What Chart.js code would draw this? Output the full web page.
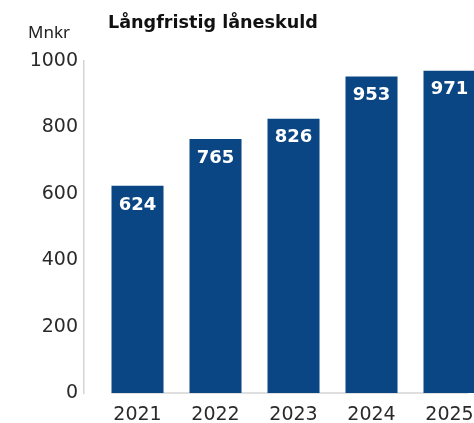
<!DOCTYPE html>
<html>
<head>
<meta charset="utf-8">
<script src="https://cdn.jsdelivr.net/npm/chart.js@4/dist/chart.umd.min.js"></script>
<style>
  html, body { margin: 0; padding: 0; background: #fff; overflow: hidden; }
  #wrap { position: relative; width: 474px; height: 423px; }
  #title { position: absolute; left: 108px; top: 12px; font: bold 17.6px "DejaVu Sans", sans-serif; color: #111; white-space: nowrap; }
  #unit { position: absolute; left: 28px; top: 20px; font: 17px "Noto Sans", sans-serif; color: #222; white-space: nowrap; }
  canvas { position: absolute; left: 0; top: 0; }
</style>
</head>
<body>
<div id="wrap">
  <canvas id="c" width="474" height="423"></canvas>
  <div id="title">Långfristig låneskuld</div>
  <div id="unit">Mnkr</div>
</div>
<script>
const years = [2021, 2022, 2023, 2024, 2025];
const values = [624, 765, 826, 953, 971];
const yTicks = [0, 200, 400, 600, 800, 1000];

const barColor = '#0b4684';
const axisColor = '#d4d4d4';
const textColor = '#2a2a2a';
const tickFont = { family: '"DejaVu Sans", sans-serif', size: 19 };

const valueLabels = {
  id: 'valueLabels',
  afterDatasetsDraw(chart) {
    const ctx = chart.ctx;
    const meta = chart.getDatasetMeta(0);
    ctx.save();
    ctx.fillStyle = '#fff';
    ctx.font = 'bold 18px "DejaVu Sans", sans-serif';
    ctx.textAlign = 'center';
    ctx.textBaseline = 'middle';
    meta.data.forEach((bar, i) => {
      ctx.fillText(String(values[i]), bar.x, bar.y + 19);
    });
    ctx.restore();
  }
};

const baseLine = {
  id: 'baseLine',
  beforeDatasetsDraw(chart) {
    const ctx = chart.ctx;
    const meta = chart.getDatasetMeta(0);
    const first = meta.data[0];
    const y = chart.scales.y.getPixelForValue(0);
    ctx.save();
    ctx.strokeStyle = axisColor;
    ctx.lineWidth = 1.5;
    ctx.beginPath();
    ctx.moveTo(first.x - first.width / 2, y);
    ctx.lineTo(chart.chartArea.right - 6, y);
    ctx.stroke();
    ctx.restore();
  }
};

new Chart(document.getElementById('c'), {
  type: 'bar',
  data: {
    datasets: [{
      data: years.map((yr, i) => ({ x: yr, y: values[i] })),
      backgroundColor: barColor,
      borderWidth: 0,
      categoryPercentage: 1,
      barPercentage: 0.667
    }]
  },
  options: {
    responsive: false,
    animation: false,
    devicePixelRatio: 1,
    layout: { padding: { top: 61, left: 0, right: 0, bottom: 0 } },
    plugins: { legend: { display: false }, tooltip: { enabled: false }, title: { display: false } },
    scales: {
      x: {
        type: 'linear',
        offset: false,
        min: years[0] - 0.686,
        max: years[years.length - 1] + 0.314,
        grid: { display: false, drawTicks: false, offset: false },
        border: { display: false },
        afterBuildTicks(scale) { scale.ticks = years.map(v => ({ value: v })); },
        afterFit(scale) { scale.height = 30; scale.paddingLeft = 0; scale.paddingRight = 0; },
        ticks: {
          color: textColor,
          font: tickFont,
          padding: 11,
          maxRotation: 0,
          autoSkip: false,
          callback: v => String(v)
        }
      },
      y: {
        min: 0,
        max: 1000,
        afterBuildTicks(scale) { scale.ticks = yTicks.map(v => ({ value: v })); },
        afterFit(scale) { scale.width = 84; },
        grid: { display: false, drawTicks: false },
        border: { display: true, color: axisColor, width: 1.5 },
        ticks: {
          color: textColor,
          font: tickFont,
          padding: 6,
          callback: v => String(v)
        }
      }
    }
  },
  plugins: [baseLine, valueLabels]
});
</script>
</body>
</html>
